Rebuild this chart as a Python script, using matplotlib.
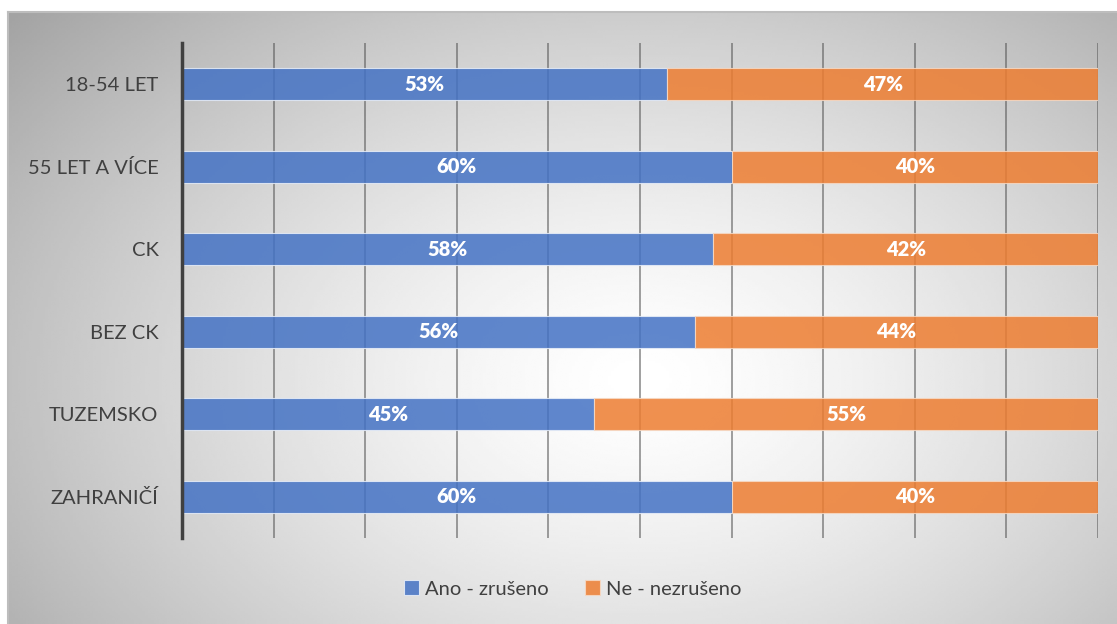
import numpy as np
import matplotlib
matplotlib.use('Agg')
import matplotlib.pyplot as plt

# data
categories = ['18-54 LET', '55 LET A VÍCE', 'CK', 'BEZ CK', 'TUZEMSKO', 'ZAHRANIČÍ']
ano = [53, 60, 58, 56, 45, 60]
ne = [47, 40, 42, 44, 55, 40]
series_names = ['Ano - zrušeno', 'Ne - nezrušeno']

plt.rcParams['font.family'] = ['Lato', 'DejaVu Sans']

W, H = 1117, 624
fig = plt.figure(figsize=(W / 100, H / 100), dpi=100)
fig.patch.set_facecolor('white')

# background with radial gradient (chart area)
bg = fig.add_axes([8 / W, 0, 1 - 8 / W, 1 - 12 / H], zorder=-5)
gx, gy = np.meshgrid(np.linspace(8, W, 400), np.linspace(12, H, 250))
r = np.hypot((gx - 640) / 620, (gy - 380) / 420)
shade = 1 - 0.24 * np.clip(r, 0, 1.4) ** 1.4
bg.imshow(shade, cmap='gray', vmin=0, vmax=1, aspect='auto', extent=[0, 1, 0, 1],
          interpolation='bilinear')
bg.set_xticks([])
bg.set_yticks([])
for s in ['right', 'bottom']:
    bg.spines[s].set_visible(False)
for s in ['top', 'left']:
    bg.spines[s].set_color('#bdbdbd')
    bg.spines[s].set_linewidth(1.5)

# main axes
ax = fig.add_axes([182 / W, 1 - 538 / H, (1098 - 182) / W, (538 - 43) / H])
ax.patch.set_alpha(0)
y = np.arange(len(categories))
h = 0.39
b1 = ax.barh(y, ano, height=h, color='#4472C4', alpha=0.85, edgecolor='#e8eef8',
             linewidth=0.8, label=series_names[0], zorder=3)
b2 = ax.barh(y, ne, left=ano, height=h, color='#ED7D31', alpha=0.85, edgecolor='#f6d9c4',
             linewidth=0.8, label=series_names[1], zorder=3)

for bars, vals in [(b1, ano), (b2, ne)]:
    for rect, v in zip(bars, vals):
        ax.text(rect.get_x() + rect.get_width() / 2, rect.get_y() + h / 2, f'{v}%',
                ha='center', va='center', color='white', fontsize=14.5,
                fontweight='heavy', zorder=4)

ax.set_xlim(0, 100)
ax.set_ylim(len(categories) - 0.5, -0.5)
ax.set_xticks(np.arange(0, 101, 10))
ax.set_xticklabels([])
ax.tick_params(axis='x', length=0)
ax.grid(axis='x', color='#555555', linewidth=1.3, alpha=0.6, zorder=1)
ax.set_yticks(y)
ax.set_yticklabels(categories, fontsize=14.5, color='#404040')
ax.tick_params(axis='y', length=0, pad=17)
for s in ['top', 'right', 'bottom']:
    ax.spines[s].set_visible(False)
ax.spines['left'].set_color('#404040')
ax.spines['left'].set_linewidth(2.5)
ax.spines['left'].set_zorder(5)

fig.legend(handles=[b1, b2], labels=series_names, loc='center', ncol=2,
           bbox_to_anchor=(573 / W, 1 - 589 / H), frameon=False, fontsize=14.5,
           labelcolor='#404040', handlelength=0.75, handleheight=0.75,
           handletextpad=0.3, columnspacing=1.8)

fig.savefig('out.png', dpi=100)
